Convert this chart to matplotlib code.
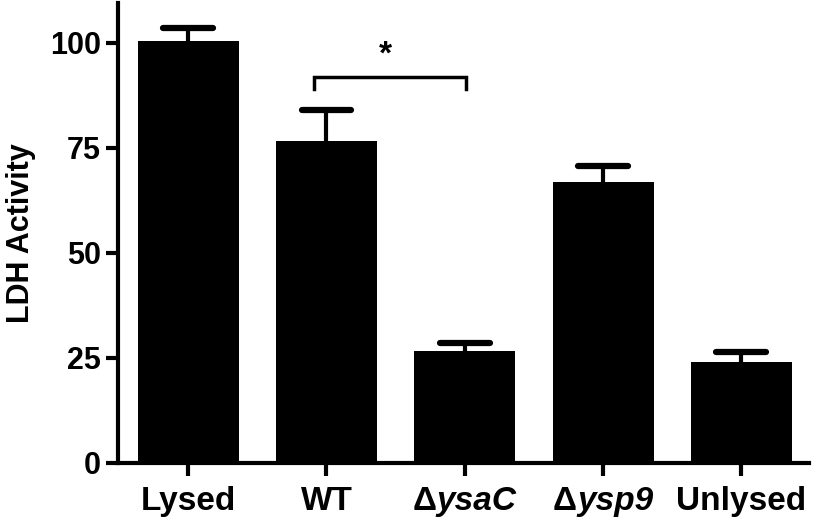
import matplotlib

matplotlib.use("Agg")
import matplotlib.pyplot as plt
from matplotlib.offsetbox import AnnotationBbox, HPacker, TextArea

groups = ["Lysed", "WT", "ysaC", "ysp9", "Unlysed"]
is_mutant = [False, False, True, True, False]
ldh_mean = [100.5, 76.6, 26.6, 66.9, 24.0]
ldh_err = [3.1, 7.4, 1.9, 3.7, 2.4]
y_ticks = [0, 25, 50, 75, 100]

plt.rcParams["font.family"] = ["Liberation Sans", "DejaVu Sans"]
plt.rcParams["font.weight"] = "bold"

fig = plt.figure(figsize=(8.14, 5.22), dpi=100)
ax = fig.add_axes([0.145, 0.1135, 0.849, 0.881])

x = list(range(len(groups)))
ax.bar(x, ldh_mean, width=0.73, color="black", zorder=2)

# upper error bars only
tops = [m + e for m, e in zip(ldh_mean, ldh_err)]
ax.vlines(x, ldh_mean, tops, color="black", lw=3, zorder=1)
for xi, t in zip(x, tops):
    ax.plot([xi - 0.18, xi + 0.18], [t, t], color="black", lw=4.5,
            solid_capstyle="round", zorder=1)

# significance bracket between WT and ysaC
bx0, bx1 = 0.91, 2.01
ax.plot([bx0, bx0, bx1, bx1], [89.1, 91.9, 91.9, 89.1], color="black",
        lw=2.5, solid_joinstyle="miter")
ax.text((bx0 + bx1) / 2 - 0.03, 97.0, "*", ha="center", va="center",
        fontsize=24, fontweight="bold")

ax.set_xlim(-0.507, 4.49)
ax.set_ylim(0, 109.5)
ax.set_yticks(y_ticks)
ax.set_xticks(x)
ax.set_xticklabels([g if not m else "" for g, m in zip(groups, is_mutant)])

# mutant labels: upright delta + italic gene name
label_fs = 24
for xi, g, m in zip(x, groups, is_mutant):
    if not m:
        continue
    box = HPacker(children=[
        TextArea("\u0394", textprops=dict(fontsize=label_fs, fontweight="bold")),
        TextArea(g, textprops=dict(fontsize=label_fs, fontweight="bold",
                                   style="italic")),
    ], pad=0, sep=0, align="baseline")
    ab = AnnotationBbox(box, (xi, 0), xycoords=ax.get_xaxis_transform(),
                        xybox=(0, -17), boxcoords="offset points",
                        box_alignment=(0.5, 1), frameon=False, pad=0)
    ax.add_artist(ab)

ax.set_ylabel("LDH Activity", fontsize=22, fontweight="bold", labelpad=10)

for side in ["top", "right"]:
    ax.spines[side].set_visible(False)
for side in ["left", "bottom"]:
    ax.spines[side].set_linewidth(3)
ax.tick_params(axis="both", width=3, length=9, labelsize=22)
ax.tick_params(axis="x", labelsize=label_fs, pad=8)

plt.savefig("out.png", dpi=100)
plt.close()
